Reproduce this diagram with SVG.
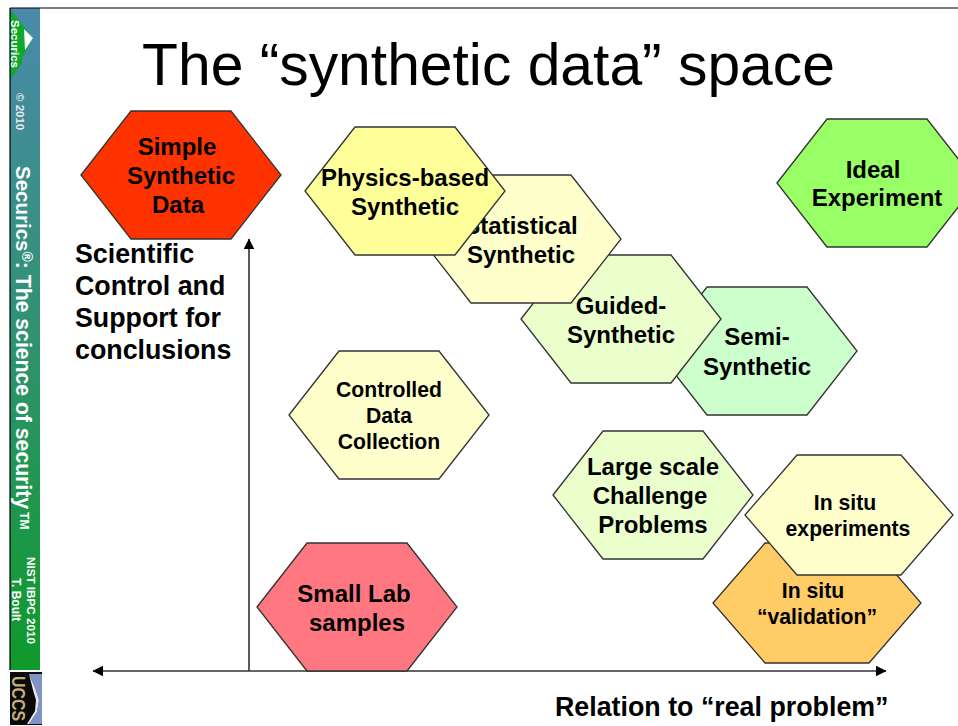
<svg xmlns="http://www.w3.org/2000/svg" width="958" height="726" viewBox="0 0 958 726">
<style>
text{font-family:"Liberation Sans",Arial,sans-serif;font-weight:700;text-anchor:middle;fill:#000}
.hex{stroke:#333;stroke-width:1.3}
.l{font-size:24px}
.m{font-size:21.2px}
.lab{font-size:26.8px;text-anchor:start}
.side{fill:#fff;text-anchor:start}
.ax{stroke:#333;stroke-width:1.6;fill:none}
</style>
<defs>
<linearGradient id="bar" x1="0" y1="0" x2="0" y2="1"><stop offset="0" stop-color="#4a8aaa"/><stop offset="0.5" stop-color="#2f9270"/><stop offset="1" stop-color="#0f9a2c"/></linearGradient>
<polygon id="h" points="-100,0 -50,-64 50,-64 100,0 50,64 -50,64"/>
<polygon id="h2" points="-104,0 -52,-60 52,-60 104,0 52,60 -52,60"/>
<marker id="arr" viewBox="0 0 10 10" refX="9.5" refY="5" markerWidth="11" markerHeight="11" orient="auto-start-reverse" markerUnits="userSpaceOnUse"><path d="M0,0L10,5L0,10z" fill="#000"/></marker>
</defs>
<rect width="958" height="726" fill="#fff"/>
<g id="sidebar">
<rect x="10" y="8" width="30" height="662" fill="url(#bar)"/>
<polygon points="10,9 33,38 22,58 22,63 10,80" fill="#0fa82e"/>
<polygon points="24,29 33,38 25,50" fill="#fff"/>
<path d="M10,8H958M10,8V670" stroke="#000" stroke-width="1.2" fill="none"/>
<text class="side" transform="translate(11,20) rotate(90)" style="font-size:11.5px">Securics</text>
<text class="side" transform="translate(16,93) rotate(90)" style="font-size:11.5px;fill:#e8e8e8">© 2010</text>
<text class="side" transform="translate(16,166) rotate(90)" style="font-size:20.5px">Securics<tspan font-size="14" dy="-6">®</tspan><tspan dy="6" style="font-size:21.2px">: The science of security</tspan><tspan font-size="12" dy="-4" dx="3">TM</tspan></text>
<text class="side" transform="translate(26.5,557) rotate(90)" style="font-size:11.7px">NIST IBPC 2010</text>
<text class="side" transform="translate(12,578) rotate(90)" style="font-size:12px">T. Boult</text>
<rect x="10" y="672" width="32" height="53" fill="#0a0a0a"/>
<polygon points="29,674 42,674 42,724 29,724 37,712 39,700 35,688" fill="#7f94c4"/>
<polygon points="29,674 35,688 39,700 37,712 29,724 27,724 35,711 36,700 33,690" fill="#e6e8ec"/>
<text transform="translate(12,676) rotate(90)" textLength="45" lengthAdjust="spacingAndGlyphs" style="font-size:18px;fill:#c4ae7c;text-anchor:start">UCCS</text>
</g>
<text id="title" x="488.5" y="85" style="font-size:58.8px;font-weight:400">The “synthetic data” space</text>
<g id="connectors">
<line class="ax" x1="249" y1="671" x2="249" y2="239" marker-end="url(#arr)"/>
<line class="ax" x1="93" y1="671" x2="886" y2="671" marker-start="url(#arr)" marker-end="url(#arr)"/>
</g>
<g id="simple"><use href="#h" class="hex" x="181" y="175" fill="#ff3300"/><text class="l" x="177" y="155">Simple</text><text class="l" x="181" y="184">Synthetic</text><text class="l" x="178" y="213">Data</text></g>
<g id="semi"><use href="#h" class="hex" x="757" y="351" fill="#ccffcc"/><text class="l" x="757" y="345">Semi-</text><text class="l" x="757" y="375">Synthetic</text></g>
<g id="guided"><use href="#h" class="hex" x="621" y="319" fill="#eaffcc"/></g>
<g id="statistical"><use href="#h" class="hex" x="521" y="239" fill="#ffffcc"/><text class="l" x="521" y="234">Statistical</text><text class="l" x="521" y="263">Synthetic</text></g>
<g id="guided-label"><text class="l" x="621" y="314">Guided-</text><text class="l" x="621" y="343">Synthetic</text></g>
<g id="physics"><use href="#h" class="hex" x="405" y="191" fill="#ffff99"/><text class="l" x="405" y="186">Physics-based</text><text class="l" x="405" y="215">Synthetic</text></g>
<g id="ideal"><use href="#h" class="hex" x="877" y="183" fill="#99ff66"/><text class="l" x="873" y="178">Ideal</text><text class="l" x="877" y="206">Experiment</text></g>
<g id="controlled"><use href="#h" class="hex" x="389" y="415" fill="#ffffcc"/><text class="m" x="389" y="397">Controlled</text><text class="m" x="389" y="423">Data</text><text class="m" x="389" y="449">Collection</text></g>
<g id="large"><use href="#h" class="hex" x="653" y="495" fill="#eaffcc"/><text class="l" x="653" y="475">Large scale</text><text class="l" x="650" y="504">Challenge</text><text class="l" x="653" y="533">Problems</text></g>
<g id="validation"><use href="#h2" class="hex" x="817" y="603" fill="#ffcc66"/></g>
<g id="experiments"><use href="#h2" class="hex" x="849" y="515" fill="#ffffcc"/><text class="m" x="845" y="510">In situ</text><text class="m" x="848" y="536">experiments</text></g>
<g id="validation-label"><text class="m" x="813" y="598">In situ</text><text class="m" x="817" y="624">“validation”</text></g>
<g id="small"><use href="#h" class="hex" x="357" y="607" fill="#ff7780"/><text class="l" x="354" y="602">Small Lab</text><text class="l" x="357" y="631">samples</text></g>
<g id="labels">
<text class="lab" x="75" y="263">Scientific</text>
<text class="lab" x="75" y="295">Control and</text>
<text class="lab" x="75" y="327">Support for</text>
<text class="lab" x="75" y="359">conclusions</text>
<text class="lab" x="555" y="716">Relation to “real problem”</text>
</g>
</svg>
